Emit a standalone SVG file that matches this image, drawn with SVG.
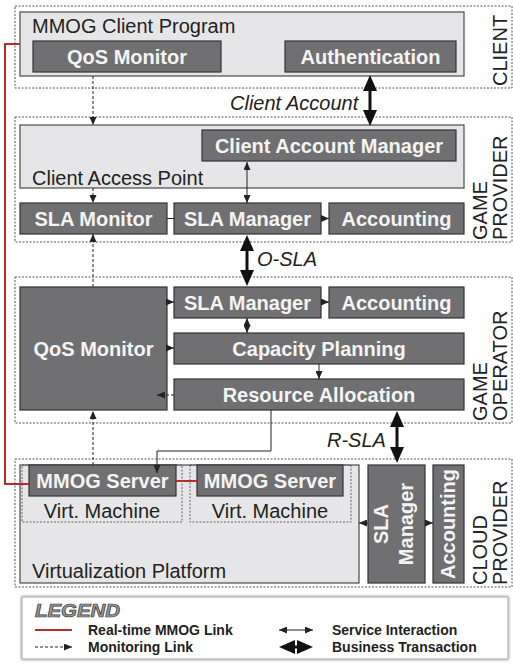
<svg xmlns="http://www.w3.org/2000/svg" width="513" height="665" viewBox="0 0 513 665">
<defs>
<style>
text{font-family:"Liberation Sans",Arial,sans-serif;}
.layer{fill:none;stroke:#444;stroke-width:0.9;stroke-dasharray:2,1.5;}
.cont{fill:#e6e6e8;stroke:#4a4a4a;stroke-width:1.2;}
.node{fill:#707072;stroke:#333;stroke-width:1.2;}
.vm{fill:none;stroke:#555;stroke-width:0.9;stroke-dasharray:2,1.5;}
.nt{font-size:20px;font-weight:bold;fill:#f4f4f4;text-anchor:middle;}
.ct{font-size:20px;fill:#222;}
.lt{font-size:20px;fill:#222;}
.it{font-size:20px;font-style:italic;fill:#222;}
.mon{fill:none;stroke:#222;stroke-width:1;stroke-dasharray:3,2;}
.svc{fill:none;stroke:#222;stroke-width:1;}
.rt{fill:none;stroke:#b3302a;stroke-width:2;}
.big{fill:#111;}
.lg{font-size:14px;font-weight:bold;fill:#222;}
</style>
<marker id="ah" viewBox="0 0 8 7" refX="8" refY="3.5" markerWidth="8" markerHeight="7" markerUnits="userSpaceOnUse" orient="auto-start-reverse"><path d="M0,0L8,3.5L0,7z" fill="#222"/></marker>
<filter id="sh" x="-5%" y="-20%" width="110%" height="140%"><feGaussianBlur in="SourceAlpha" stdDeviation="1.5"/><feOffset dx="0" dy="0"/><feComponentTransfer><feFuncA type="linear" slope="0.5"/></feComponentTransfer><feMerge><feMergeNode/><feMergeNode in="SourceGraphic"/></feMerge></filter>
</defs>
<rect width="513" height="665" fill="#fff"/>

<g id="layer-client"><rect class="layer" x="15" y="6" width="497" height="82"/><text class="lt" transform="translate(507,86) rotate(-90)">CLIENT</text></g>
<g id="layer-game-provider"><rect class="layer" x="15" y="117" width="497" height="125"/><text class="lt" transform="translate(487,240) rotate(-90)">GAME</text><text class="lt" transform="translate(507,240) rotate(-90)">PROVIDER</text></g>
<g id="layer-game-operator"><rect class="layer" x="15" y="277" width="497" height="146"/><text class="lt" transform="translate(487,421) rotate(-90)">GAME</text><text class="lt" transform="translate(507,421) rotate(-90)">OPERATOR</text></g>
<g id="layer-cloud-provider"><rect class="layer" x="15" y="459" width="497" height="128"/><text class="lt" transform="translate(487,585) rotate(-90)">CLOUD</text><text class="lt" transform="translate(507,585) rotate(-90)">PROVIDER</text></g>

<g id="mmog-client-program"><rect class="cont" x="20" y="12" width="444" height="64"/><text class="ct" x="32" y="33">MMOG Client Program</text></g>
<g id="client-access-point"><rect class="cont" x="20" y="125" width="444" height="63"/><text class="ct" x="32" y="185">Client Access Point</text></g>
<g id="virtualization-platform"><rect class="cont" x="20" y="465" width="339" height="118"/><text class="ct" x="32" y="578">Virtualization Platform</text></g>
<g id="vm1"><rect class="vm" x="22" y="465" width="160" height="57"/><text class="ct" x="102" y="518" text-anchor="middle">Virt. Machine</text></g>
<g id="vm2"><rect class="vm" x="190" y="465" width="161" height="57"/><text class="ct" x="270" y="518" text-anchor="middle">Virt. Machine</text></g>

<g id="client-qos-monitor"><rect class="node" x="33" y="41" width="188" height="31"/><text class="nt" x="127" y="64">QoS Monitor</text></g>
<g id="authentication"><rect class="node" x="285" y="41" width="171" height="31"/><text class="nt" x="370.5" y="64">Authentication</text></g>
<g id="client-account-manager"><rect class="node" x="202" y="130" width="254" height="31"/><text class="nt" x="329" y="153">Client Account Manager</text></g>
<g id="gp-sla-monitor"><rect class="node" x="20" y="203" width="147" height="31"/><text class="nt" x="93.5" y="226">SLA Monitor</text></g>
<g id="gp-sla-manager"><rect class="node" x="174" y="203" width="147" height="31"/><text class="nt" x="247.5" y="226">SLA Manager</text></g>
<g id="gp-accounting"><rect class="node" x="329" y="203" width="135" height="31"/><text class="nt" x="396.5" y="226">Accounting</text></g>
<g id="go-qos-monitor"><rect class="node" x="20" y="287" width="147" height="123"/><text class="nt" x="93.5" y="356">QoS Monitor</text></g>
<g id="go-sla-manager"><rect class="node" x="174" y="287" width="147" height="31"/><text class="nt" x="247.5" y="310">SLA Manager</text></g>
<g id="go-accounting"><rect class="node" x="329" y="287" width="135" height="31"/><text class="nt" x="396.5" y="310">Accounting</text></g>
<g id="capacity-planning"><rect class="node" x="174" y="333" width="290" height="31"/><text class="nt" x="319" y="356">Capacity Planning</text></g>
<g id="resource-allocation"><rect class="node" x="174" y="379" width="290" height="31"/><text class="nt" x="319" y="402">Resource Allocation</text></g>
<g id="mmog-server-1"><rect class="node" x="29" y="465" width="147" height="31"/><text class="nt" x="102.5" y="488">MMOG Server</text></g>
<g id="mmog-server-2"><rect class="node" x="197" y="465" width="146" height="31"/><text class="nt" x="270" y="488">MMOG Server</text></g>
<g id="cp-sla-manager"><rect class="node" x="368" y="465" width="57" height="118"/><text class="nt" transform="translate(388,524) rotate(-90)">SLA</text><text class="nt" transform="translate(413,524) rotate(-90)">Manager</text></g>
<g id="cp-accounting"><rect class="node" x="433" y="465" width="31" height="118"/><text class="nt" transform="translate(455,524) rotate(-90)">Accounting</text></g>

<g id="connectors">
<path class="rt" d="M20,44H5V484H29"/>
<path class="rt" d="M176,481H197"/>
<path class="mon" d="M93,76V125" marker-end="url(#ah)"/>
<path class="mon" d="M93,188V203" marker-end="url(#ah)"/>
<path class="mon" d="M93,287V234" marker-end="url(#ah)"/>
<path class="mon" d="M93,465V411" marker-end="url(#ah)"/>
<path class="mon" d="M174,395H157" marker-end="url(#ah)"/>
<path class="svc" d="M247,162V203" marker-start="url(#ah)" marker-end="url(#ah)"/>
<path class="svc" d="M167,218.5H174"/>
<path class="svc" d="M321,218.5H329" marker-end="url(#ah)"/>
<path class="svc" d="M167,302H174" marker-end="url(#ah)"/>
<path class="svc" d="M167,348H174" marker-end="url(#ah)"/>
<path class="svc" d="M321,302H329" marker-end="url(#ah)"/>
<path class="svc" d="M247,318V333" marker-start="url(#ah)" marker-end="url(#ah)"/>
<path class="svc" d="M319,364V379" marker-end="url(#ah)"/>
<path class="svc" d="M271,410V451H157V473" marker-end="url(#ah)"/>
<path class="svc" d="M368,523H359" marker-end="url(#ah)"/>
<path class="svc" d="M425,523H433" marker-end="url(#ah)"/>
<path class="big" d="M370,75L377,91H371.5V110H377L370,126L363,110H368.5V91H363Z"/>
<path class="big" d="M247,235L254,251H248.5V270H254L247,286L240,270H245.5V251H240Z"/>
<path class="big" d="M397,411L404,427H398.5V447H404L397,463L390,447H395.5V427H390Z"/>
<text class="it" x="230" y="110">Client Account</text>
<text class="it" x="257" y="266">O-SLA</text>
<text class="it" x="327" y="447">R-SLA</text>
</g>

<g id="legend">
<rect x="22" y="597" width="486" height="62" fill="#fff" stroke="#aaa" stroke-width="1" filter="url(#sh)"/>
<text x="35" y="617" font-size="18" font-weight="bold" font-style="italic" fill="#999" stroke="#333" stroke-width="0.7" textLength="85" lengthAdjust="spacingAndGlyphs">LEGEND</text>
<path class="rt" d="M35,630H72"/>
<path class="mon" d="M35,647H72" marker-end="url(#ah)"/>
<text class="lg" x="88" y="635">Real-time MMOG Link</text>
<text class="lg" x="88" y="651.5">Monitoring Link</text>
<path class="svc" d="M279,630H313" marker-start="url(#ah)" marker-end="url(#ah)"/>
<path class="big" d="M279,647L295,640V645.5H297V640L313,647L297,654V648.5H295V654Z"/>
<text class="lg" x="332" y="635">Service Interaction</text>
<text class="lg" x="332" y="651.5">Business Transaction</text>
</g>
</svg>
